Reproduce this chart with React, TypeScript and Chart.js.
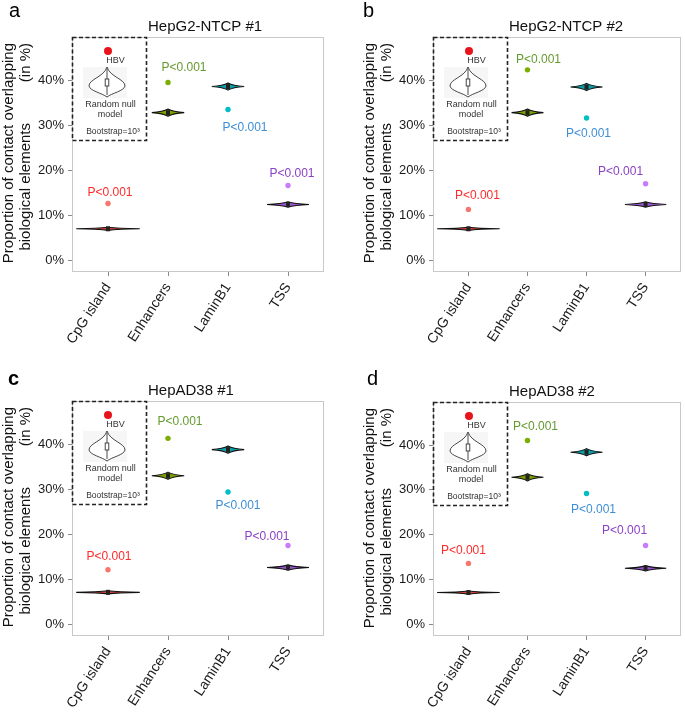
import React, { useEffect, useRef } from "react";
import { Chart, registerables } from "chart.js";
Chart.register(...registerables);

// ---------------- data ----------------
const categories = ["CpG island", "Enhancers", "LaminB1", "TSS"];
const yTickValues = [0, 10, 20, 30, 40];
const panelLetters = ["a", "b", "c", "d"];
const panelTitles = ["HepG2-NTCP #1", "HepG2-NTCP #2", "HepAD38 #1", "HepAD38 #2"];
const pLabelText = "P<0.001";

// random null model (bootstrap) medians, in %
const nullMedianA = [7.0, 32.8, 38.6, 12.4];
const nullMedianB = [7.0, 32.8, 38.5, 12.4];
const nullMedianC = [7.1, 33.0, 38.8, 12.6];
const nullMedianD = [7.1, 32.8, 38.4, 12.5];
// observed HBV values, in %
const hbvA = [12.6, 39.5, 33.5, 16.6];
const hbvB = [11.3, 42.3, 31.6, 17.0];
const hbvC = [12.1, 41.3, 29.4, 17.5];
const hbvD = [13.6, 41.0, 29.2, 17.6];
// null distribution spread (half range, in %) and relative violin width (category units)
const nullSpread = [0.35, 0.8, 0.8, 0.6];
const violinWidth = [0.53, 0.27, 0.27, 0.35];

const nullMedians = [nullMedianA, nullMedianB, nullMedianC, nullMedianD];
const hbvValues = [hbvA, hbvB, hbvC, hbvD];

// ---------------- styles / layout ----------------
const FONT = "'Liberation Sans', Arial, Helvetica, sans-serif";
const fillColors = ["#F8766D", "#7CAE00", "#00BFC4", "#C77CFF"];
const violinColors = ["#d8453a", "#7a9e00", "#0e9ea3", "#9a55d0"];
const labelColors = ["#FF2A2A", "#659A30", "#3E8ED6", "#8A42C6"];

const panelLayouts = [
  { left: 0, top: 0, w: 342, h: 356, pl: 72, pr: 324, pt: 37, pb: 272, lx: 9, ly: 17, bold: false,
    lab: [[2, -11], [16, -15], [17, 18], [4, -12]] },
  { left: 343, top: 0, w: 342, h: 356, pl: 90, pr: 341, pt: 37, pb: 272, lx: 20, ly: 17, bold: false,
    lab: [[9, -14], [11, -10], [2, 16], [-25, -12]] },
  { left: 0, top: 356, w: 342, h: 356, pl: 72, pr: 324, pt: 45, pb: 280, lx: 8, ly: 29, bold: true,
    lab: [[1, -13], [12, -17], [10, 14], [-21, -9]] },
  { left: 343, top: 356, w: 342, h: 356, pl: 90, pr: 341, pt: 46, pb: 280, lx: 24, ly: 29, bold: false,
    lab: [[-5, -13], [8, -14], [7, 16], [-21, -15]] },
];

function makePlugin(p: number) {
  const L = panelLayouts[p];
  return {
    id: "figure" + p,
    beforeDatasetsDraw(chart: any) {
      const ctx = chart.ctx;
      const a = chart.chartArea;
      const xs = chart.scales.x;
      const ys = chart.scales.y;
      ctx.save();
      // plot frame
      ctx.strokeStyle = "#c9c9c9";
      ctx.lineWidth = 1;
      ctx.strokeRect(a.left + 0.5, a.top + 0.5, a.right - a.left - 1, a.bottom - a.top - 1);
      // violins
      nullMedians[p].forEach((m: number, i: number) => {
        const xc = xs.getPixelForValue(i);
        const xl = xs.getPixelForValue(i - violinWidth[i]);
        const xr = xs.getPixelForValue(i + violinWidth[i]);
        const yc = ys.getPixelForValue(m);
        const yt = ys.getPixelForValue(m + nullSpread[i]);
        const yb = ys.getPixelForValue(m - nullSpread[i]);
        ctx.beginPath();
        ctx.moveTo(xl, yc);
        ctx.quadraticCurveTo(xc - (xc - xl) * 0.3, yc - (yc - yt) * 0.25, xc, yt);
        ctx.quadraticCurveTo(xc + (xr - xc) * 0.3, yc - (yc - yt) * 0.25, xr, yc);
        ctx.quadraticCurveTo(xc + (xr - xc) * 0.3, yc + (yb - yc) * 0.25, xc, yb);
        ctx.quadraticCurveTo(xc - (xc - xl) * 0.3, yc + (yb - yc) * 0.25, xl, yc);
        ctx.closePath();
        ctx.fillStyle = violinColors[i];
        ctx.fill();
        ctx.strokeStyle = "#111";
        ctx.lineWidth = 1.1;
        ctx.stroke();
        // tiny box
        ctx.fillStyle = "#222";
        ctx.fillRect(xc - 2, yc - 2.5, 4, 5);
      });
      ctx.restore();
    },
    afterDraw(chart: any) {
      const ctx = chart.ctx;
      const a = chart.chartArea;
      const xs = chart.scales.x;
      const ys = chart.scales.y;
      ctx.save();
      // P labels
      ctx.font = `12px ${FONT}`;
      ctx.textAlign = "center";
      ctx.textBaseline = "middle";
      hbvValues[p].forEach((v: number, i: number) => {
        ctx.fillStyle = labelColors[i];
        ctx.fillText(pLabelText, xs.getPixelForValue(i) + L.lab[i][0], ys.getPixelForValue(v) + L.lab[i][1]);
      });
      // panel letter
      ctx.fillStyle = "#000";
      ctx.textAlign = "left";
      ctx.textBaseline = "alphabetic";
      ctx.font = `${L.bold ? "bold " : ""}20px ${FONT}`;
      ctx.fillText(panelLetters[p], L.lx, L.ly);
      // title
      ctx.font = `15px ${FONT}`;
      ctx.textBaseline = "middle";
      ctx.fillStyle = "#111";
      ctx.fillText(panelTitles[p], a.left + 76, a.top - 10);
      // y axis title
      ctx.font = `15px ${FONT}`;
      ctx.fillStyle = "#111";
      ctx.textAlign = "right";
      ctx.textBaseline = "middle";
      const drawRot = (t: string, x: number, y: number) => {
        ctx.save();
        ctx.translate(x, y);
        ctx.rotate(-Math.PI / 2);
        ctx.fillText(t, 0, 0);
        ctx.restore();
      };
      drawRot("Proportion of contact overlapping", a.left - 63, a.top + 6);
      drawRot("(in %)", a.left - 46, a.top + 6);
      drawRot("biological elements", a.left - 46, a.top + 86);
      // inset legend
      const X = a.left, Y = a.top;
      ctx.fillStyle = "#f6f6f6";
      ctx.fillRect(X + 11, Y + 30, 44, 31);
      ctx.setLineDash([4, 2.5]);
      ctx.strokeStyle = "#222";
      ctx.lineWidth = 1.6;
      ctx.strokeRect(X + 0.5, Y + 0.5, 74, 103);
      ctx.setLineDash([]);
      ctx.fillStyle = "#E8141C";
      ctx.beginPath();
      ctx.arc(X + 36, Y + 14, 4, 0, Math.PI * 2);
      ctx.fill();
      ctx.fillStyle = "#333";
      ctx.textAlign = "center";
      ctx.textBaseline = "middle";
      ctx.font = `9px ${FONT}`;
      ctx.fillText("HBV", X + 43.5, Y + 23.5);
      // violin icon
      const vx = X + 35, vt = Y + 30, vb = Y + 60, vw = Y + 49, hw = 18;
      ctx.beginPath();
      ctx.moveTo(vx, vt);
      ctx.bezierCurveTo(vx - 3, vt + 10, vx - hw, vw - 7, vx - hw, vw);
      ctx.bezierCurveTo(vx - hw + 1, vw + 5, vx - 5, vb - 4, vx, vb);
      ctx.bezierCurveTo(vx + 5, vb - 4, vx + hw - 1, vw + 5, vx + hw, vw);
      ctx.bezierCurveTo(vx + hw, vw - 7, vx + 3, vt + 10, vx, vt);
      ctx.closePath();
      ctx.fillStyle = "#fff";
      ctx.fill();
      ctx.strokeStyle = "#333";
      ctx.lineWidth = 0.9;
      ctx.stroke();
      ctx.beginPath();
      ctx.moveTo(vx, vt + 2);
      ctx.lineTo(vx, vb - 2);
      ctx.stroke();
      ctx.fillStyle = "#fff";
      ctx.fillRect(vx - 1.8, Y + 42, 3.6, 7);
      ctx.strokeRect(vx - 1.8, Y + 42, 3.6, 7);
      ctx.fillStyle = "#333";
      ctx.font = `9px ${FONT}`;
      ctx.fillText("Random null", X + 38.5, Y + 67.5);
      ctx.fillText("model", X + 38, Y + 78);
      ctx.font = `8.5px ${FONT}`;
      ctx.fillText("Bootstrap=10\u00B3", X + 41, Y + 95);
      ctx.restore();
    },
  };
}

function Panel({ index }: { index: number }) {
  const ref = useRef<HTMLCanvasElement | null>(null);
  const L = panelLayouts[index];
  useEffect(() => {
    if (!ref.current) return;
    const chart = new Chart(ref.current, {
      type: "scatter",
      data: {
        datasets: [
          {
            data: hbvValues[index].map((v, i) => ({ x: i, y: v })),
            backgroundColor: fillColors,
            pointBackgroundColor: fillColors,
            pointBorderWidth: 0,
            pointRadius: 2.7,
          },
        ],
      },
      options: {
        animation: false,
        responsive: false,
        events: [],
        layout: { padding: { top: L.pt, right: L.w - L.pr, left: 0, bottom: 0 } },
        plugins: { legend: { display: false }, tooltip: { enabled: false }, title: { display: false } },
        scales: {
          x: {
            type: "linear",
            min: -0.6,
            max: 3.6,
            afterBuildTicks: (s: any) => {
              s.ticks = categories.map((_, i) => ({ value: i }));
            },
            afterFit: (s: any) => {
              s.height = L.h - L.pb;
            },
            ticks: {
              autoSkip: false,
              minRotation: 57,
              maxRotation: 57,
              padding: 4,
              color: "#1a1a1a",
              font: { family: FONT, size: 14 },
              callback: (v: any) => categories[v] ?? "",
            },
            grid: { drawOnChartArea: false, drawTicks: true, tickLength: 4, color: "#8a8a8a" },
            border: { display: false },
          },
          y: {
            type: "linear",
            min: -2.6,
            max: 49.6,
            afterBuildTicks: (s: any) => {
              s.ticks = yTickValues.map((v) => ({ value: v }));
            },
            afterFit: (s: any) => {
              s.width = L.pl;
            },
            ticks: {
              padding: 4,
              color: "#1a1a1a",
              font: { family: FONT, size: 13 },
              callback: (v: any) => v + "%",
            },
            grid: { drawOnChartArea: false, drawTicks: true, tickLength: 4, color: "#8a8a8a" },
            border: { display: false },
          },
        },
      },
      plugins: [makePlugin(index)],
    } as any);
    return () => chart.destroy();
  }, [index]);
  return (
    <canvas
      ref={ref}
      width={L.w}
      height={L.h}
      style={{ position: "absolute", left: L.left, top: L.top, width: L.w, height: L.h }}
    />
  );
}

export default function App() {
  useEffect(() => {
    document.body.style.margin = "0";
    document.body.style.background = "#fff";
  }, []);
  return (
    <div style={{ position: "relative", width: 685, height: 712, background: "#fff", overflow: "hidden" }}>
      {[0, 1, 2, 3].map((i) => (
        <Panel key={i} index={i} />
      ))}
    </div>
  );
}
